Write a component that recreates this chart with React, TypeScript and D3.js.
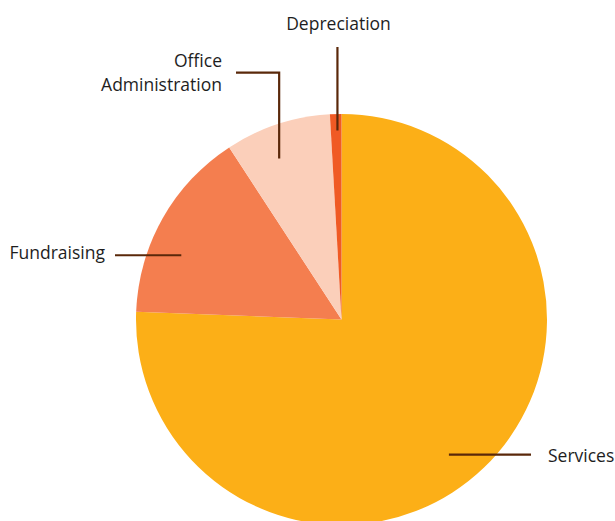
import * as d3 from 'd3';

const categories = ['Services', 'Fundraising', 'Office Administration', 'Depreciation'];
const shares = [75.6, 15.2, 8.3, 0.9];
const sliceColors = ['#FCAF17', '#F47E4F', '#FBCFBA', '#F05A24'];

const width = 615;
const height = 521;
const cx = 341.5;
const cy = 319.5;
const radius = 205.5;
const lineColor = '#5A280A';

// leader layout per slice: where on the slice the line starts, and how it leaves
const leaders = [
  { t: 0.52, rf: 0.84, kind: 'h', to: 531, text: ['Services'], tx: 548, ty: 462, anchor: 'start' },
  { t: 0.36, rf: 0.84, kind: 'h', to: 115, text: ['Fundraising'], tx: 105, ty: 259, anchor: 'end' },
  { t: 0.40, rf: 0.84, kind: 'elbow', to: 72.7, to2: 236, text: ['Office', 'Administration'], tx: 222, ty: 67, anchor: 'end' },
  { t: 0.62, rf: 0.92, kind: 'v', to: 47, text: ['Depreciation'], tx: 338.5, ty: 30, anchor: 'middle' },
];

export default function App() {
  const data = categories.map((c, i) => ({ name: c, value: shares[i], color: sliceColors[i] }));
  const arcs = d3.pie<any>().value((d: any) => d.value).sort(null)(data);
  const arc = d3.arc<any>().innerRadius(0).outerRadius(radius);

  return (
    <svg width={width} height={height} style={{ position: 'absolute', left: 0, top: 0 }}
      fontFamily="'Open Sans', sans-serif" fontSize={17.5}>
      <rect width={width} height={height} fill="#fff" />
      <g transform={`translate(${cx},${cy})`}>
        {arcs.map((a, i) => (
          <path key={i} d={arc(a) as string} fill={a.data.color} />
        ))}
      </g>
      {arcs.map((a, i) => {
        const l = leaders[i];
        const ang = a.startAngle + l.t * (a.endAngle - a.startAngle);
        const x0 = cx + Math.sin(ang) * radius * l.rf;
        const y0 = cy - Math.cos(ang) * radius * l.rf;
        let d = '';
        if (l.kind === 'h') d = `M${x0},${y0}H${l.to}`;
        else if (l.kind === 'v') d = `M${x0},${y0}V${l.to}`;
        else d = `M${x0},${y0}V${l.to}H${l.to2}`;
        return (
          <g key={i}>
            <path d={d} fill="none" stroke={lineColor} strokeWidth={2.2} />
            {l.text.map((s, j) => (
              <text key={j} x={l.tx} y={l.ty + j * 24} textAnchor={l.anchor} fill="#1e1e1e">{s}</text>
            ))}
          </g>
        );
      })}
    </svg>
  );
}
